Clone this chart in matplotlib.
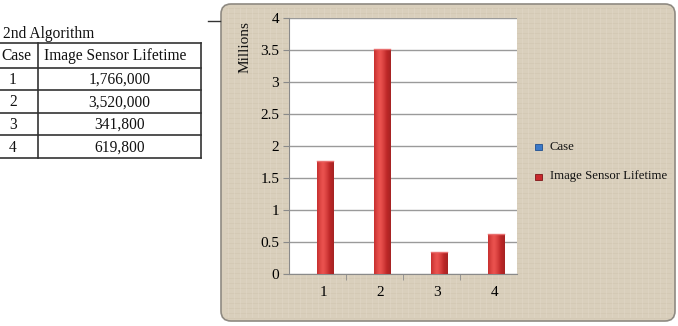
import numpy as np
import matplotlib
matplotlib.use("Agg")
import matplotlib.pyplot as plt
from matplotlib.patches import FancyBboxPatch, Rectangle

plt.rcParams['font.family'] = ['Liberation Serif', 'DejaVu Serif']

# ---- data ----
categories = ["1", "2", "3", "4"]
case_values = [1, 2, 3, 4]
lifetime_values = [1766000, 3520000, 341800, 619800]
table_title = "2nd Algorithm"
table_header = ["Case", "Image Sensor Lifetime"]
table_values = ["1,766,000", "3,520,000", "341,800", "619,800"]
y_ticks = [0, 0.5, 1, 1.5, 2, 2.5, 3, 3.5, 4]
y_ticklabels = ["0", "0.5", "1", "1.5", "2", "2.5", "3", "3.5", "4"]
series_names = ["Case", "Image Sensor Lifetime"]

W, H = 678, 326
fig = plt.figure(figsize=(W / 100, H / 100), dpi=100)
fig.patch.set_facecolor("white")

# overlay axes in pixel coordinates
ov = fig.add_axes([0, 0, 1, 1])
ov.set_xlim(0, W)
ov.set_ylim(H, 0)
ov.axis("off")

# chart panel background
panel = FancyBboxPatch((221, 4), 454, 317, boxstyle="round,pad=0,rounding_size=10",
                       facecolor="#d9cfbc", edgecolor="#8f8a82", linewidth=1.2, zorder=0)
ov.add_patch(panel)
# subtle texture
for yy in np.arange(8, 320, 5):
    ov.plot([226, 671], [yy, yy], color="#cbbfa8", lw=0.5, alpha=0.45, zorder=0.5)
for xx in np.arange(228, 672, 6):
    ov.plot([xx, xx], [8, 317], color="#e4dccc", lw=0.6, alpha=0.45, zorder=0.5)

# dash
ov.plot([208, 220], [21, 21], color="#333333", lw=1.0)

# table
fs_t = 11.2
ov.text(3, 38, table_title, fontsize=fs_t, va="baseline", ha="left", color="#111111")
row_edges = [43.3, 67.7, 90, 112.7, 135, 158]
col_x = [-2, 38.3, 201]
lc = "#333333"
for yy in row_edges:
    ov.plot([col_x[0], col_x[2]], [yy, yy], color=lc, lw=1.2)
for xx in col_x:
    ov.plot([xx, xx], [row_edges[0], row_edges[-1]], color=lc, lw=1.2)
ov.text(16, (row_edges[0] + row_edges[1]) / 2 + 1, table_header[0], fontsize=fs_t,
        ha="center", va="center", color="#111111")
ov.text(115, (row_edges[0] + row_edges[1]) / 2 + 1, table_header[1], fontsize=fs_t,
        ha="center", va="center", color="#111111")
for i, (c, v) in enumerate(zip(categories, table_values)):
    yc = (row_edges[i + 1] + row_edges[i + 2]) / 2 + 1
    ov.text(13, yc, c, fontsize=fs_t, ha="center", va="center", color="#111111")
    ov.text(119.5, yc, v, fontsize=fs_t, ha="center", va="center", color="#111111")

# legend
ov.add_patch(Rectangle((535, 143.5), 6.5, 6.5, facecolor="#3a78c8", edgecolor="#1f4f8f", lw=0.6))
ov.text(550, 146.5, series_names[0], fontsize=9.2, ha="left", va="center", color="#111111")
ov.add_patch(Rectangle((535, 173.5), 6.5, 6.5, facecolor="#c8282c", edgecolor="#7e1518", lw=0.6))
ov.text(550, 176.5, series_names[1], fontsize=9.2, ha="left", va="center", color="#111111")

# chart axes
x0, x1, y0, y1 = 289, 517, 18.3, 274
ax = fig.add_axes([x0 / W, (H - y1) / H, (x1 - x0) / W, (y1 - y0) / H])
ax.set_facecolor("white")
x = np.arange(len(categories))
bw = 0.29
off = 0.13
case_m = np.array(case_values) / 1e6
life_m = np.array(lifetime_values) / 1e6
ax.bar(x + off - bw, case_m, bw, color="#3a78c8", zorder=3)
bars = ax.bar(x + off, life_m, bw, color="#cc2a2c", edgecolor="#8a1a1c", linewidth=0.6, zorder=3)

# cylindrical shading via gradient clipped to each bar
grad = np.linspace(0, 1, 64)
shade = 1 - 0.55 * (np.abs(grad - 0.35) / 0.65) ** 1.3
cmap_img = np.zeros((1, 64, 3))
base = np.array([0.86, 0.18, 0.18])
hi = np.array([0.96, 0.42, 0.40])
for k in range(64):
    s = shade[k]
    cmap_img[0, k] = base * (0.55 + 0.45 * s) + (hi - base) * max(0, s - 0.7) * 2
cmap_img = np.clip(cmap_img, 0, 1)
for b in bars:
    bx, by = b.get_x(), b.get_y()
    im = ax.imshow(cmap_img, extent=[bx, bx + b.get_width(), by, by + b.get_height()],
                   aspect="auto", zorder=3.5, interpolation="bilinear")
    im.set_clip_path(b)
    ax.plot([bx, bx + b.get_width()], [by + b.get_height()] * 2, color="#e87070", lw=1.0, zorder=4)

ax.set_xlim(-0.5, len(categories) - 0.5)
ax.set_ylim(0, 4)
ax.set_yticks(y_ticks)
ax.set_yticklabels(y_ticklabels, fontsize=11)
ax.yaxis.grid(True, color="#9a9a9a", lw=1.0, zorder=0)
ax.set_axisbelow(True)
ax.set_xticks(x + 0.1)
ax.set_xticklabels(categories, fontsize=11)
ax.tick_params(axis="x", length=0, pad=9)
ax.set_xticks(np.arange(0.5, len(categories) - 0.5, 1), minor=True)
ax.tick_params(axis="x", which="minor", length=4, color="#8a8a8a", direction="out")
ax.tick_params(axis="y", length=4, color="#8a8a8a", pad=3)
for s in ["top", "right"]:
    ax.spines[s].set_visible(False)
ax.spines["left"].set_color("#8a8a8a")
ax.spines["bottom"].set_color("#8a8a8a")

ov.text(245, 47, "Millions", rotation=90, fontsize=11, ha="center", va="center", color="#111111")

fig.savefig("out.png", dpi=100)
